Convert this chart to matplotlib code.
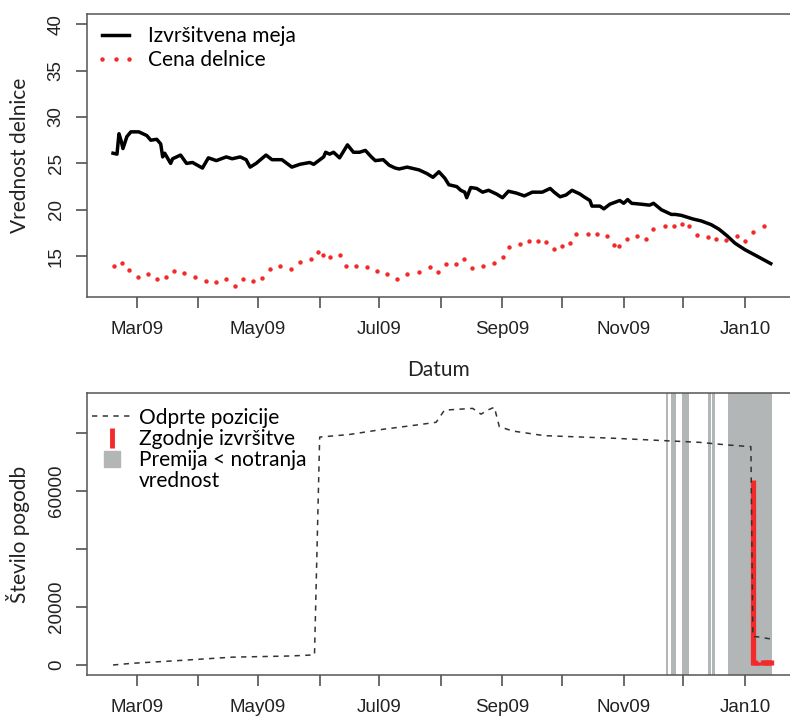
import datetime as dt
import numpy as np
import matplotlib
matplotlib.use('Agg')
import matplotlib.pyplot as plt
import matplotlib.dates as mdates
from matplotlib.lines import Line2D
from matplotlib.ticker import FuncFormatter

# days are counted from 1 Mar 2009
start = mdates.date2num(dt.datetime(2009, 3, 1))

# izvrsitvena meja (black line)
meja_dni = [-12, -10, -9, -8, -7, -5, -3, 1, 5, 7, 10, 12, 13, 14, 17, 18, 22, 25, 28, 33,
            36, 40, 45, 48, 52, 55, 57, 60, 65, 68, 73, 78, 82, 87, 89, 94, 95, 97, 99, 102,
            106, 109, 112, 115, 118, 120, 124, 127, 130, 132, 136, 142, 146, 149, 152, 155, 157, 161, 163, 165,
            166, 168, 171, 174, 177, 181, 184, 187, 191, 195, 199, 204, 208, 210, 213, 216, 219, 223, 225, 228,
            229, 233, 235, 238, 243, 245, 247, 249, 254, 258, 260, 264, 269, 271, 274, 280, 284, 289, 293, 297,
            301, 306, 313, 319]
meja = [26.1, 26.0, 28.2, 27.5, 26.6, 27.9, 28.4, 28.4, 28.0, 27.5, 27.6, 27.1, 25.7, 26.1, 25.0, 25.5, 25.9, 25.0, 25.1, 24.5,
        25.6, 25.3, 25.7, 25.5, 25.7, 25.4, 24.6, 25.0, 25.9, 25.4, 25.4, 24.6, 24.9, 25.1, 24.9, 25.7, 26.2, 26.0, 26.2, 25.6,
        27.0, 26.2, 26.2, 26.4, 25.7, 25.3, 25.4, 24.8, 24.5, 24.4, 24.6, 24.3, 23.9, 23.5, 24.1, 23.4, 22.7, 22.5, 22.1, 21.9,
        21.3, 22.4, 22.3, 21.9, 22.1, 21.7, 21.3, 22.0, 21.8, 21.5, 21.9, 21.9, 22.3, 21.9, 21.4, 21.6, 22.1, 21.7, 21.4, 21.0,
        20.4, 20.4, 20.1, 20.6, 21.0, 20.7, 21.1, 20.7, 20.6, 20.5, 20.7, 20.0, 19.5, 19.5, 19.4, 19.0, 18.8, 18.4, 17.9, 17.2,
        16.4, 15.7, 14.9, 14.2]

# cena delnice (red dots)
cena_dni = [-11.6, -7.4, -3.9, 0.4, 5.4, 9.9, 14.9, 18.6, 23.6, 29.5, 34.7, 39.7, 45.1, 49.2, 53.4, 58.4,
            62.9, 66.8, 71.9, 77.7, 81.9, 87.4, 91.1, 93.6, 97.0, 102.0, 105.4, 110.4, 115.9, 120.9, 125.9, 130.9,
            135.8, 141.8, 147.6, 151.4, 155.6, 160.6, 164.8, 168.9, 174.0, 179.5, 184.4, 187.4, 192.8, 197.5, 201.7, 205.9,
            209.7, 213.7, 218.1, 221.2, 227.1, 231.8, 236.8, 240.2, 242.7, 246.6, 251.9, 256.1, 259.8, 265.7, 270.4, 274.5,
            277.9, 282.0, 287.6, 291.3, 296.6, 301.9, 305.9, 310.2, 315.6]
cena = [13.95, 14.3, 13.5, 12.8, 13.1, 12.5, 12.8, 13.4, 13.2, 12.8, 12.3, 12.2, 12.5, 11.8, 12.55, 12.35,
        12.6, 13.6, 13.95, 13.65, 14.4, 14.7, 15.4, 15.1, 14.9, 15.1, 13.95, 13.95, 13.8, 13.4, 13.1, 12.5,
        13.05, 13.3, 13.8, 13.3, 14.2, 14.2, 14.75, 13.75, 13.9, 14.3, 14.9, 16.0, 16.3, 16.6, 16.65, 16.55,
        15.8, 16.1, 16.4, 17.4, 17.4, 17.35, 17.2, 16.2, 16.1, 16.8, 17.2, 16.9, 17.9, 18.2, 18.2, 18.5,
        18.2, 17.25, 17.1, 16.8, 16.7, 17.2, 16.65, 17.6, 18.2]

# odprte pozicije (dashed line)
odprte_dni = [-12, -2, 18, 48, 77, 88.4, 89.4, 92, 107, 124, 140.5, 150.6, 154.8, 169, 173.2, 176.5,
              179.9, 182.4, 189.1, 205, 240, 283, 297, 309, 310, 312, 319]
odprte = [0, 600, 1400, 2700, 3100, 3450, 3500, 78600, 79500, 81300, 82750, 83700, 87900, 88500, 86500, 87900,
          88900, 82200, 80700, 79100, 78200, 76800, 75900, 75300, 9760, 9760, 8970]

# zgodnje izvrsitve (red bars)
izvr_dni = [310, 311, 312, 313, 315, 316, 317, 318, 319]
izvr = [63800, 1700, 1100, 1100, 1700, 1800, 1800, 1800, 1800]

# premija < notranja vrednost (grey bands)
premija_od = [266.5, 268.8, 274.4, 287.4, 289.4, 297.5]
premija_do = [267.5, 271.4, 277.9, 288.9, 290.9, 319.6]

tick_font = 'Liberation Sans'
text_font = 'Lato'
rdeca = '#f42a2a'
siva = '#b3b6b7'

plt.rcParams['axes.edgecolor'] = '#555555'
plt.rcParams['axes.linewidth'] = 1.1

fig = plt.figure(figsize=(7.9, 7.23), dpi=100)
ax1 = fig.add_axes([0.1101, 0.5892, 0.9, 0.3914])
ax2 = fig.add_axes([0.1101, 0.0664, 0.9, 0.3900])


def mesec(x, pos):
    d = mdates.num2date(x)
    return d.strftime('%b%y') if d.month % 2 == 1 else ''


for ax in (ax1, ax2):
    ax.set_xlim(start - 25.1, start + 332.7)
    ax.xaxis.set_major_locator(mdates.MonthLocator())
    ax.xaxis.set_major_formatter(FuncFormatter(mesec))
    ax.tick_params(length=8, width=1.1, color='#444444', labelsize=13.5, labelcolor='#222222')
    ax.tick_params(axis='x', pad=9)
    ax.tick_params(axis='y', pad=8, labelrotation=90)
    for t in ax.get_xticklabels() + ax.get_yticklabels():
        t.set_family(tick_font)
    for t in ax.get_yticklabels():
        t.set_va('center')

# zgornji graf
ax1.plot(start + np.array(meja_dni), meja, color='black', lw=2.5, label='Izvršitvena meja')
ax1.plot(start + np.array(cena_dni), cena, ls='none', marker='o', ms=3.2, color=rdeca, mec='none',
         label='Cena delnice')
ax1.set_ylim(10.6, 41.1)
ax1.set_yticks([15, 20, 25, 30, 35, 40])
ax1.set_ylabel('Vrednost delnice', family=text_font, fontsize=15, color='#222222')
ax1.yaxis.set_label_coords(-0.08, 0.5)
ax1.set_xlabel('Datum', family=text_font, fontsize=15, color='#222222')
ax1.xaxis.set_label_coords(0.494, -0.222)
ax1.legend(loc='upper left', bbox_to_anchor=(0.0127, 0.958), frameon=False, numpoints=3,
           borderpad=0, borderaxespad=0, handlelength=1.9, handletextpad=0.6, labelspacing=0.2,
           prop={'family': text_font, 'size': 15})

# spodnji graf
for a, b in zip(premija_od, premija_do):
    ax2.axvspan(start + a, start + b, color=siva, lw=0, zorder=0)
ax2.vlines(start + np.array(izvr_dni), 0, izvr, color=rdeca, lw=3.8, zorder=2)
ax2.plot(start + np.array(odprte_dni), odprte, color='#333333', lw=1.1, dashes=(3.5, 3.5), zorder=3)
ax2.set_ylim(-3450, 93800)
ax2.set_yticks([0, 20000, 40000, 60000, 80000])
ax2.set_yticklabels(['0', '20000', '', '60000', ''], family=tick_font)
for t in ax2.get_yticklabels():
    t.set_va('center')
ax2.set_ylabel('Število pogodb', family=text_font, fontsize=15, color='#222222')
ax2.yaxis.set_label_coords(-0.08, 0.5)

handles = [
    Line2D([], [], color='#333333', lw=1.1, dashes=(3.5, 3.5)),
    Line2D([], [], color=rdeca, ls='none', marker='|', ms=15, mew=3.5),
    Line2D([], [], color=siva, ls='none', marker='s', ms=11),
    Line2D([], [], ls='none'),
]
labels = ['Odprte pozicije', 'Zgodnje izvršitve', 'Premija < notranja', 'vrednost']
ax2.legend(handles, labels, loc='upper left', bbox_to_anchor=(0.007, 0.948), frameon=False, numpoints=1,
           borderpad=0, borderaxespad=0, handlelength=1.9, handletextpad=0.35, labelspacing=0.06,
           prop={'family': text_font, 'size': 15})

fig.savefig('out.png', dpi=100)
